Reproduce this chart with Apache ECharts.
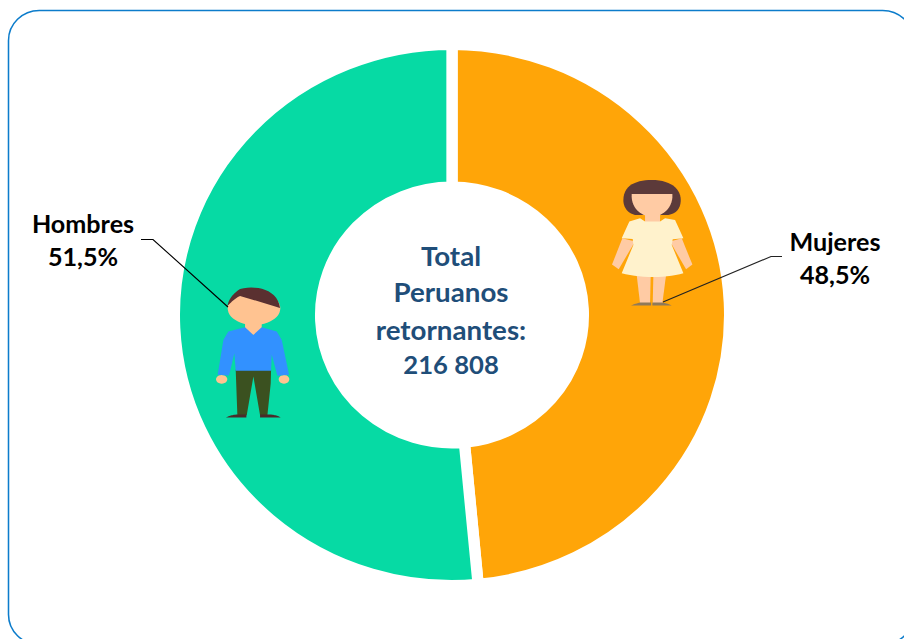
<!DOCTYPE html>
<html>
<head>
<meta charset="utf-8">
<style>
html,body{margin:0;padding:0;background:#fff;overflow:hidden;width:904px;height:639px}
#c{width:881px;height:639px;transform-origin:0 0;transform:scaleX(1.0264)}
</style>
<script src="https://cdn.jsdelivr.net/npm/echarts@6/dist/echarts.min.js"></script>
</head>
<body>
<div id="c"></div>
<script>
const categories = ['Mujeres', 'Hombres'];
const shares = [48.5, 51.5];
const sliceColors = ['#FFA508', '#06DAA4'];
const centerLines = ['Total', 'Peruanos', 'retornantes:', '216 808'];

const SX = 1.0264;
const X = x => x / SX;
const font = 'Lato, Carlito, sans-serif';

function poly(points, fill) { return { type: 'polygon', z: 10, shape: { points }, style: { fill } }; }
function oval(cx, cy, rx, ry, fill) { return { type: 'circle', z: 10, x: cx, y: cy, scaleX: rx, scaleY: ry, shape: { cx: 0, cy: 0, r: 1 }, style: { fill } }; }
// outline helper: each step is [x,y] (straight) or [c1x,c1y,c2x,c2y,x,y] (curve)
function outline(steps) {
  const pts = [];
  let cur = null;
  steps.forEach(s => {
    if (s.length === 2) { pts.push(s); cur = s; return; }
    for (let k = 1; k <= 14; k++) {
      const t = k / 14, u = 1 - t;
      pts.push([
        u*u*u*cur[0] + 3*u*u*t*s[0] + 3*u*t*t*s[2] + t*t*t*s[4],
        u*u*u*cur[1] + 3*u*u*t*s[1] + 3*u*t*t*s[3] + t*t*t*s[5]
      ]);
    }
    cur = [s[4], s[5]];
  });
  return pts;
}

const skinM = '#FFC391', skinW = '#FFCBA4';
const man = [
  poly([[167,450],[273,450],[272,490],[262,586],[240,586],[220,470],[200,586],[172,586]], '#3B5120'),
  poly(outline([[138,593],[150,587,160,585,170,584],[199,584],[199,593]]), '#4A2C2A'),
  poly(outline([[240,593],[240,584],[270,584],[285,585,295,589,302,593]]), '#4A2C2A'),
  oval(125, 478, 17, 13, skinM), oval(312, 478, 16, 13, skinM),
  poly([[195,305],[245,305],[245,345],[195,345]], skinM),
  poly([[195,322],[220,345],[245,322],[290,335],[305,360],[327,465],[292,468],[275,405],[273,453],[167,453],[163,400],[147,467],[113,465],[130,360],[145,335]], '#3291FF'),
  oval(222, 265, 79, 50, skinM),
  poly(outline([[142,258],[146,238,158,222,180,207],[230,195,292,208,300,264],[180,228],[165,235,150,250,142,258]]), '#5A3030')
];
const woman = [
  poly(outline([[100,90],[100,45,140,30,185,30],[240,30,272,55,272,90],[272,115,260,130,235,135],[135,135],[115,130,100,115,100,90]]), '#5C3A3A'),
  poly([[165,130],[210,130],[210,160],[165,160]], skinW),
  poly(outline([[125,72],[247,72],[250,115,215,140,186,140],[155,140,122,115,125,72]]), skinW),
  poly([[97,205],[66,284],[86,298],[135,215]], skinW),
  poly([[275,205],[307,284],[288,298],[240,215]], skinW),
  poly([[140,315],[182,315],[180,400],[150,400]], skinW),
  poly([[190,315],[228,315],[217,400],[188,400]], skinW),
  poly(outline([[150,145],[165,155],[210,155],[225,145],[255,150],[280,205],[248,208],[245,225],[280,310],[230,325,150,325,95,310],[130,225],[128,207],[95,205],[118,155]]), '#FFF2CC'),
  poly(outline([[122,407],[135,402,142,400,150,398],[183,398],[183,407]]), '#8F7A5A'),
  poly(outline([[187,407],[187,398],[217,398],[228,400,238,403,245,407]]), '#8F7A5A')
];

const labelPos = {
  Mujeres: { x: 835, y: 258 },
  Hombres: { x: 83, y: 240 }
};

const graphic = [
  { type: 'rect', z: -1, shape: { x: X(8.5), y: 10.5, width: X(905), height: 634, r: 30 },
    style: { fill: 'none', stroke: '#0C7CCB', lineWidth: 1.5 } },
  { type: 'group', x: X(180), y: 220, scaleX: 1 / 3 / SX, scaleY: 1 / 3, children: man },
  { type: 'group', x: X(590), y: 170, scaleX: 1 / 3 / SX, scaleY: 1 / 3, children: woman },
  { type: 'polyline', z: 11, shape: { points: [[X(141),239.5],[X(153),239.5],[X(228),307]] },
    style: { fill: 'none', stroke: '#000', lineWidth: 1.1 } },
  { type: 'polyline', z: 11, shape: { points: [[X(782),256.5],[X(771),256.5],[X(663),302]] },
    style: { fill: 'none', stroke: '#222', lineWidth: 1.1 } },
  ...centerLines.map((t, i) => ({
    type: 'text', z: 11, x: X(451), y: [255.5, 291.5, 329.5, 364][i],
    style: { text: t, font: 'bold ' + (i === 3 ? 25 : 27) + 'px ' + font, fill: '#1F4E79', align: 'center', verticalAlign: 'middle' }
  }))
];

const chart = echarts.init(document.getElementById('c'), null, { renderer: 'svg' });
chart.setOption({
  animation: false,
  backgroundColor: '#fff',
  graphic,
  series: [{
    type: 'pie',
    center: [X(452), 315],
    radius: [128, 270.5],
    startAngle: 90,
    clockwise: true,
    silent: true,
    data: categories.map((name, i) => ({ name, value: shares[i], itemStyle: { color: sliceColors[i] } })),
    itemStyle: { borderColor: '#fff', borderWidth: 11, borderJoin: 'miter' },
    label: {
      show: true,
      position: 'outside',
      color: '#000',
      fontFamily: font,
      fontWeight: 'bold',
      fontSize: 24.5,
      lineHeight: 33,
      align: 'center',
      formatter: p => p.name + '\n' + String(p.value).replace('.', ',') + '%'
    },
    labelLine: { show: false },
    labelLayout: p => {
      const c = labelPos[categories[p.dataIndex]];
      return { x: X(c.x), y: c.y, align: 'center', verticalAlign: 'middle' };
    }
  }]
});
</script>
</body>
</html>
